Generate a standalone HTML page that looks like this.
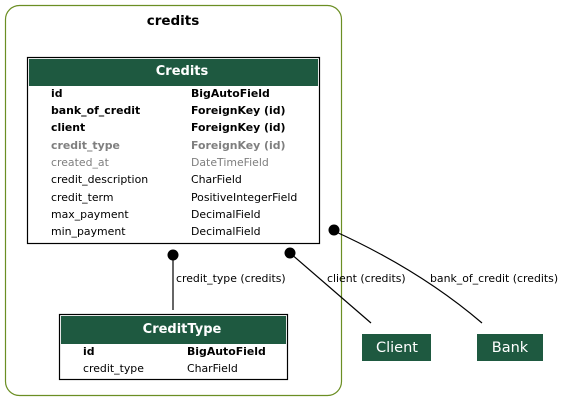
<!DOCTYPE html>
<html><head><meta charset="utf-8"><style>
html,body{margin:0;padding:0;background:#fff;}
svg{display:block;}
text{font-family:"DejaVu Sans","Liberation Sans",sans-serif;font-size:10.9px;}
.b{font-weight:bold;}
.g{fill:#7f7f7f;}
</style></head><body>
<svg width="563" height="401" viewBox="0 0 563 401" xmlns="http://www.w3.org/2000/svg">
<rect x="5.5" y="5.5" width="336" height="390" rx="14" fill="#fff" stroke="#6b8e23" stroke-width="1.2"/>
<text x="173" y="25" text-anchor="middle" class="b" style="font-size:13.5px">credits</text>

<rect x="27.5" y="57.5" width="292" height="186" fill="#fff" stroke="#000" stroke-width="1.2"/>
<rect x="29" y="59" width="289" height="27" fill="#1e5940"/>
<text x="182" y="75" text-anchor="middle" class="b" style="font-size:13px;fill:#fff">Credits</text>
<g>
<text x="51" y="97" class="b">id</text><text x="191" y="97" class="b">BigAutoField</text>
<text x="51" y="114" class="b">bank_of_credit</text><text x="191" y="114" class="b">ForeignKey (id)</text>
<text x="51" y="131" class="b">client</text><text x="191" y="131" class="b">ForeignKey (id)</text>
<text x="51" y="149" class="b g">credit_type</text><text x="191" y="149" class="b g">ForeignKey (id)</text>
<text x="51" y="166" class="g">created_at</text><text x="191" y="166" class="g">DateTimeField</text>
<text x="51" y="183">credit_description</text><text x="191" y="183">CharField</text>
<text x="51" y="201">credit_term</text><text x="191" y="201">PositiveIntegerField</text>
<text x="51" y="218">max_payment</text><text x="191" y="218">DecimalField</text>
<text x="51" y="235">min_payment</text><text x="191" y="235">DecimalField</text>
</g>

<rect x="59.5" y="314.5" width="228" height="65" fill="#fff" stroke="#000" stroke-width="1.2"/>
<rect x="61" y="316" width="225" height="28" fill="#1e5940"/>
<text x="182" y="333" text-anchor="middle" class="b" style="font-size:13px;fill:#fff">CreditType</text>
<text x="83" y="355" class="b">id</text><text x="187" y="355" class="b">BigAutoField</text>
<text x="83" y="372">credit_type</text><text x="187" y="372">CharField</text>

<line x1="173" y1="255" x2="173" y2="310" stroke="#000" stroke-width="1.2"/>
<circle cx="173" cy="255" r="5.5"/>
<text x="176" y="282">credit_type (credits)</text>

<line x1="290" y1="253" x2="371" y2="323" stroke="#000" stroke-width="1.2"/>
<circle cx="290" cy="253" r="5.5"/>
<text x="327" y="282">client (credits)</text>

<path d="M334 231 Q420 270 482 323" fill="none" stroke="#000" stroke-width="1.2"/>
<circle cx="334" cy="230" r="5.5"/>
<text x="430" y="282">bank_of_credit (credits)</text>

<rect x="362" y="334" width="69" height="27" fill="#1e5940"/>
<text x="397" y="352" text-anchor="middle" style="font-size:14.5px;fill:#fff">Client</text>
<rect x="477" y="334" width="66" height="27" fill="#1e5940"/>
<text x="510" y="352" text-anchor="middle" style="font-size:14.5px;fill:#fff">Bank</text>
</svg>
</body></html>
